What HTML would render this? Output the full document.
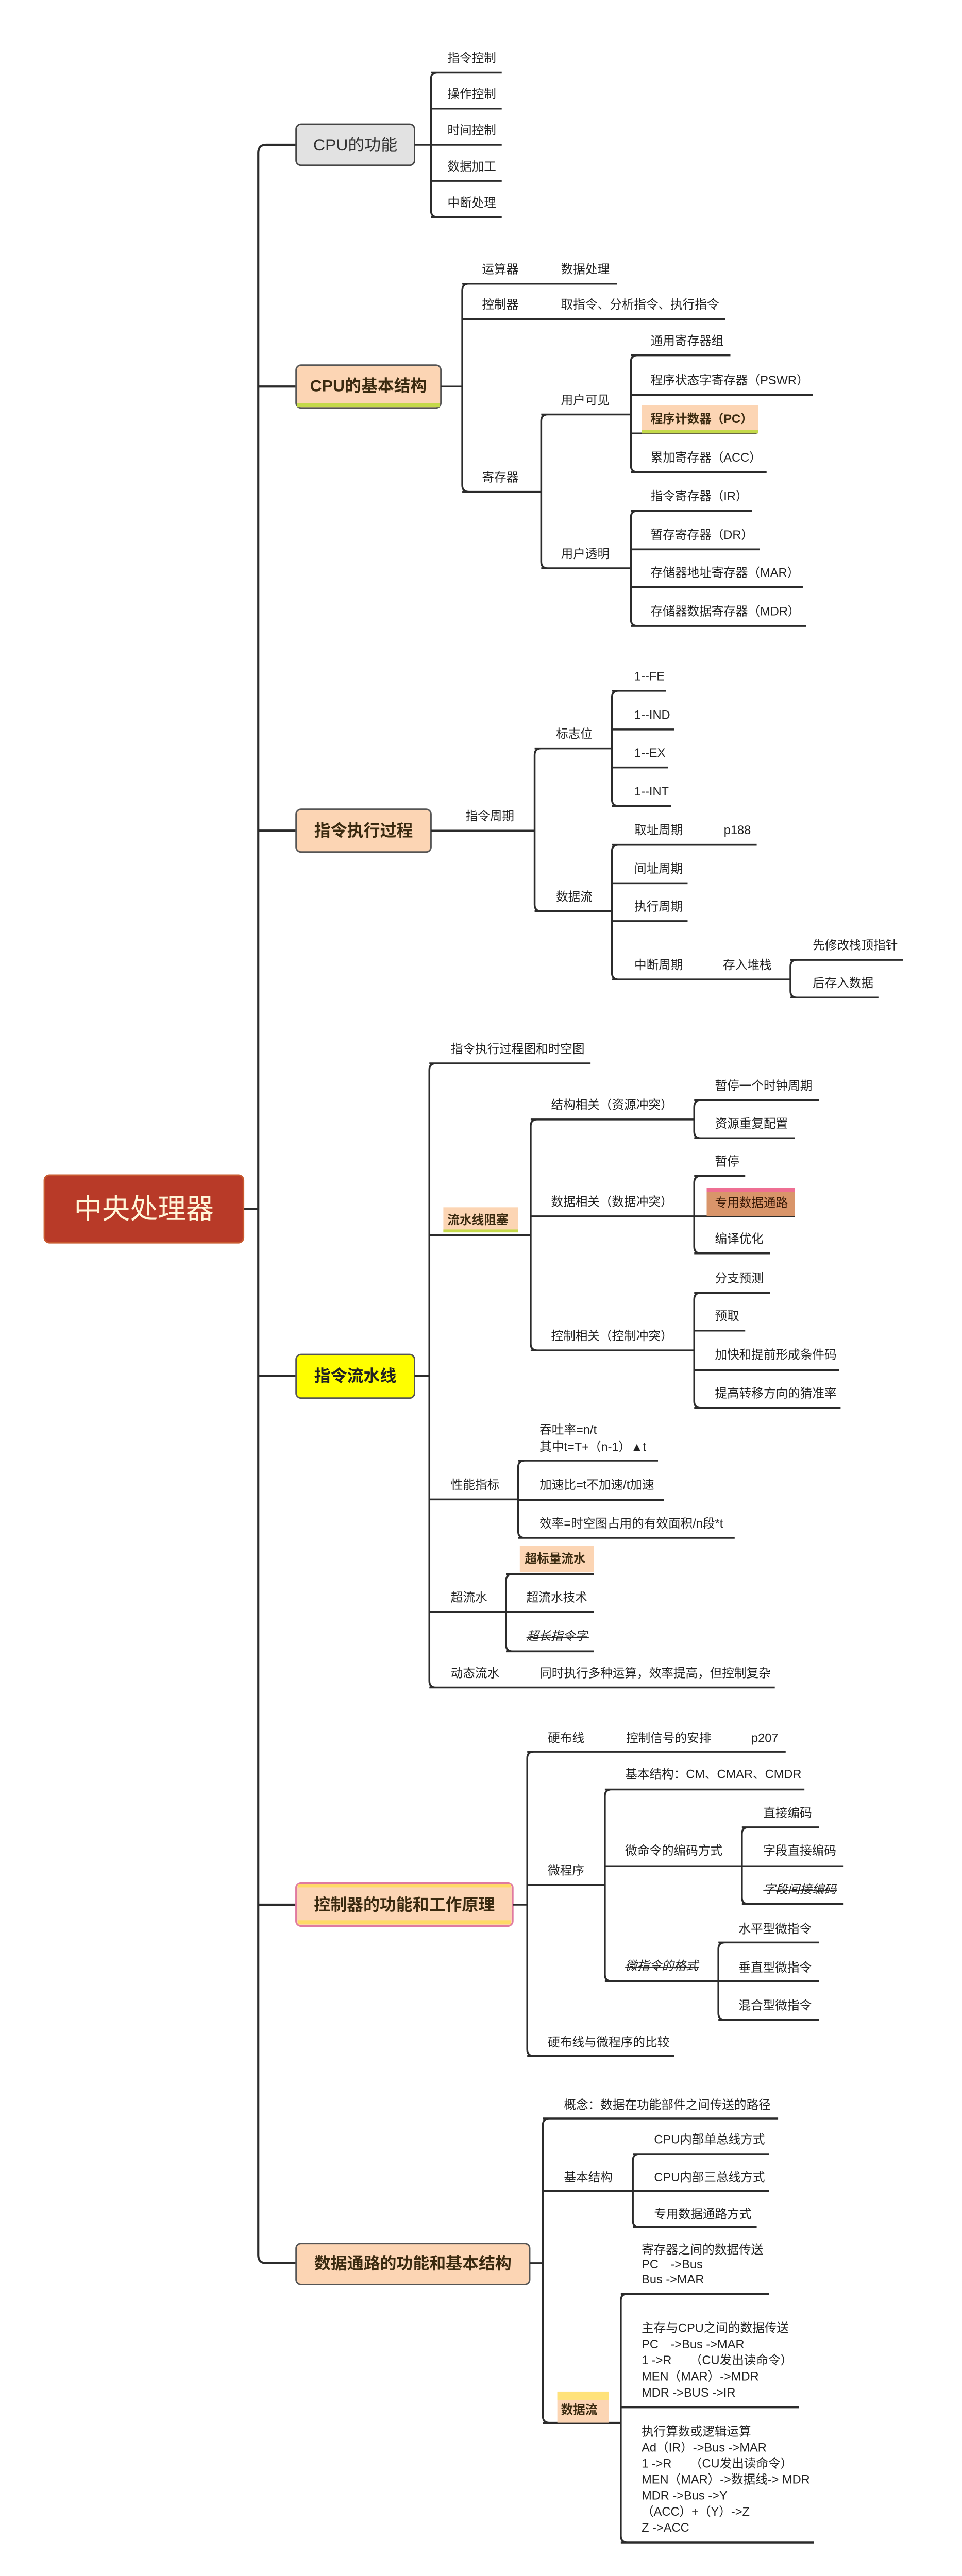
<!DOCTYPE html>
<html><head><meta charset="utf-8">
<style>
html,body{margin:0;padding:0;background:#fff;overflow:hidden;width:1867px;height:5109px;}
svg{display:block;width:1867px;height:5109px;}
text{font-family:"Liberation Sans","Noto Sans CJK SC",sans-serif;font-size:7.4px;fill:#222;dominant-baseline:central;}
.b{font-weight:bold;font-size:10px;fill:#3a2a10;}
.l{stroke:#2b2b2b;stroke-width:1.1;fill:none;}
.s{stroke:#2b2b2b;stroke-width:0.7;}
</style></head><body>
<svg viewBox="0 0 584.8 1600.2" preserveAspectRatio="xMinYMin meet" xmlns="http://www.w3.org/2000/svg">
<rect x="0" y="0" width="584.8" height="1600.2" fill="#fff"/>

<!-- spine -->
<path class="l" d="M180,88 L162,88 Q157,88 157,93 L157,1371 Q157,1376 162,1376 L180,1376 M157,235 L180,235 M157,505 L180,505 M157,836.5 L180,836.5 M157,1158 L180,1158 M148,735 L157,735" style="stroke-width:1.3"/>

<!-- main node -->
<rect x="27" y="714.5" width="121" height="41" rx="3" fill="#b83a28" stroke="#c85a30" stroke-width="1"/>
<text x="87.5" y="735" text-anchor="middle" style="font-size:17px;fill:#fff6d8">中央处理器</text>

<!-- ===== Section 1 ===== -->
<rect x="180" y="75.5" width="72" height="25" rx="3" fill="#e2e2e2" stroke="#444" stroke-width="0.9"/>
<text x="216" y="88" text-anchor="middle" style="font-size:10px;fill:#333">CPU的功能</text>
<path class="l" d="M252,88 L262,88 M266,44 Q262,44 262,48 L262,128 Q262,132 266,132 M262,44 L305,44 M262,66 L305,66 M262,88 L305,88 M262,110 L305,110 M262,132 L305,132"/>
<text x="272" y="35.5">指令控制</text>
<text x="272" y="57.5">操作控制</text>
<text x="272" y="79.5">时间控制</text>
<text x="272" y="101.5">数据加工</text>
<text x="272" y="123.5">中断处理</text>

<!-- ===== Section 2 ===== -->
<rect x="180" y="222" width="88" height="26" rx="3" fill="#fcd5b4" stroke="#555" stroke-width="0.9"/>
<rect x="180.5" y="245" width="87" height="2.5" fill="#c4d94a"/>
<text x="224" y="234.5" text-anchor="middle" class="b">CPU的基本结构</text>
<path class="l" d="M268,235 L281,235 M285,172.5 Q281,172.5 281,176.5 L281,295 Q281,299 285,299 M281,172.5 L375,172.5 M281,194 L441,194 M281,299 L329,299
M333,252 Q329,252 329,256 L329,341.5 Q329,345.5 333,345.5 M329,252 L383,252 M329,345.5 L383,345.5
M387.5,216 Q383.5,216 383.5,220 L383.5,283 Q383.5,287 387.5,287 M383.5,216 L444,216 M383.5,240 L494,240 M383.5,263.5 L460,263.5 M383.5,287 L466,287
M387.5,310.6 Q383.5,310.6 383.5,314.6 L383.5,376.6 Q383.5,380.6 387.5,380.6 M383.5,310.6 L457,310.6 M383.5,334 L462,334 M383.5,357 L488,357 M383.5,380.6 L490,380.6"/>
<text x="293" y="164">运算器</text><text x="341" y="164">数据处理</text>
<text x="293" y="185.5">控制器</text><text x="341" y="185.5">取指令、分析指令、执行指令</text>
<text x="293" y="290.5">寄存器</text>
<text x="341" y="243.5">用户可见</text>
<text x="341" y="337">用户透明</text>
<text x="395.5" y="207.5">通用寄存器组</text>
<text x="395.5" y="231.5">程序状态字寄存器（PSWR）</text>
<rect x="390" y="246.5" width="71" height="17" fill="#fcd5b4"/>
<rect x="390" y="261.5" width="71" height="2" fill="#c4d94a"/>
<text x="395.5" y="255" style="font-weight:bold;fill:#3a2a10">程序计数器（PC）</text>
<text x="395.5" y="278.5">累加寄存器（ACC）</text>
<text x="395.5" y="302">指令寄存器（IR）</text>
<text x="395.5" y="325.5">暂存寄存器（DR）</text>
<text x="395.5" y="348.5">存储器地址寄存器（MAR）</text>
<text x="395.5" y="372">存储器数据寄存器（MDR）</text>

<!-- ===== Section 3 ===== -->
<rect x="180" y="492" width="82" height="26" rx="3" fill="#fcd5b4" stroke="#555" stroke-width="0.9"/>
<text x="221" y="505" text-anchor="middle" class="b">指令执行过程</text>
<path class="l" d="M262,505 L325,505 M329,455 Q325,455 325,459 L325,550 Q325,554 329,554 M325,455 L372,455 M325,554 L372,554
M376,420 Q372,420 372,424 L372,486 Q372,490 376,490 M372,420 L405,420 M372,443.5 L410,443.5 M372,466.6 L406,466.6 M372,490 L408,490
M376,513.6 Q372,513.6 372,517.6 L372,591.5 Q372,595.5 376,595.5 M372,513.6 L460,513.6 M372,537 L418,537 M372,560 L418,560 M372,595.5 L480.5,595.5
M484.5,583.6 Q480.5,583.6 480.5,587.6 L480.5,602.5 Q480.5,606.5 484.5,606.5 M480.5,583.6 L549,583.6 M480.5,606.5 L534,606.5"/>
<text x="283" y="496.5">指令周期</text>
<text x="338" y="446.5">标志位</text>
<text x="338" y="545.5">数据流</text>
<text x="385.6" y="411.5">1--FE</text>
<text x="385.6" y="435">1--IND</text>
<text x="385.6" y="458">1--EX</text>
<text x="385.6" y="481.5">1--INT</text>
<text x="385.6" y="505">取址周期</text><text x="440" y="505">p188</text>
<text x="385.6" y="528.5">间址周期</text>
<text x="385.6" y="551.5">执行周期</text>
<text x="385.6" y="587">中断周期</text><text x="439.5" y="587">存入堆栈</text>
<text x="494" y="575">先修改栈顶指针</text>
<text x="494" y="598">后存入数据</text>

<!-- ===== Section 4 ===== -->
<rect x="180" y="823.5" width="72" height="26.5" rx="3" fill="#ffff00" stroke="#555" stroke-width="0.9"/>
<text x="216" y="836.5" text-anchor="middle" class="b" style="fill:#222">指令流水线</text>
<path class="l" d="M252,836.5 L261,836.5 M265,646.5 Q261,646.5 261,650.5 L261,1022 Q261,1026 265,1026
M261,646.5 L359,646.5 M261,751 L322.6,751 M261,911.6 L315,911.6 M261,980 L307.6,980 M261,1026 L471,1026
M326.6,680.6 Q322.6,680.6 322.6,684.6 L322.6,817 Q322.6,821 326.6,821 M322.6,680.6 L422,680.6 M322.6,739.5 L422,739.5 M322.6,821 L422,821
M426,669 Q422,669 422,673 L422,688 Q422,692 426,692 M422,669 L498,669 M422,692 L483,692
M426,715 Q422,715 422,719 L422,758 Q422,762 426,762 M422,715 L453,715 M422,739.5 L483,739.5 M422,762 L468,762
M426,786 Q422,786 422,790 L422,852 Q422,856 426,856 M422,786 L468,786 M422,809 L453,809 M422,833 L510,833 M422,856 L511,856
M319,888 Q315,888 315,892 L315,931 Q315,935 319,935 M315,888 L400,888 M315,912 L403.5,912 M315,935 L446.6,935
M311.6,957 Q307.6,957 307.6,961 L307.6,1000 Q307.6,1004 311.6,1004 M307.6,957 L361,957 M307.6,980 L361,980 M307.6,1004 L361,1004"/>
<text x="274" y="638">指令执行过程图和时空图</text>
<rect x="269.5" y="734" width="45.5" height="15" fill="#fcd5b4"/>
<rect x="269.5" y="747.5" width="45.5" height="1.8" fill="#c4d94a"/>
<text x="272" y="742" style="font-weight:bold;fill:#3a2a10">流水线阻塞</text>
<text x="335" y="672">结构相关（资源冲突）</text>
<text x="335" y="731">数据相关（数据冲突）</text>
<text x="335" y="812.5">控制相关（控制冲突）</text>
<text x="434.6" y="660.5">暂停一个时钟周期</text>
<text x="434.6" y="683.5">资源重复配置</text>
<text x="434.6" y="706.5">暂停</text>
<rect x="429.6" y="722" width="53.4" height="17.5" fill="#d9956a"/>
<rect x="429.6" y="722" width="53.4" height="2.5" fill="#ee6f93"/>
<text x="434.6" y="731.5" style="fill:#3a1a08">专用数据通路</text>
<text x="434.6" y="753.5">编译优化</text>
<text x="434.6" y="777.5">分支预测</text>
<text x="434.6" y="800.5">预取</text>
<text x="434.6" y="824">加快和提前形成条件码</text>
<text x="434.6" y="847.5">提高转移方向的猜准率</text>
<text x="274" y="903">性能指标</text>
<text x="328" y="869.5">吞吐率=n/t</text>
<text x="328" y="880">其中t=T+（n-1）▲t</text>
<text x="328" y="903">加速比=t不加速/t加速</text>
<text x="328" y="926.5">效率=时空图占用的有效面积/n段*t</text>
<text x="274" y="971.5">超流水</text>
<rect x="316" y="940" width="45" height="16" fill="#fcd5b4"/>
<text x="319" y="948" style="font-weight:bold;fill:#3a2a10">超标量流水</text>
<text x="320" y="971.5">超流水技术</text>
<text x="320" y="995" style="font-style:italic">超长指令字</text>
<line class="s" x1="320" y1="995.5" x2="358" y2="995.5"/>
<text x="274" y="1017.5">动态流水</text>
<text x="328" y="1017.5">同时执行多种运算，效率提高，但控制复杂</text>

<!-- ===== Section 5 ===== -->
<rect x="180" y="1144.7" width="131.7" height="26.3" rx="3" fill="#fcd5b4" stroke="#e07aa0" stroke-width="1"/>
<rect x="181" y="1145.5" width="129.7" height="2" fill="#ffd966"/>
<rect x="181" y="1167.5" width="129.7" height="2.5" fill="#ffd966"/>
<text x="245.8" y="1158" text-anchor="middle" class="b">控制器的功能和工作原理</text>
<path class="l" d="M311.7,1158 L320.5,1158 M324.5,1065 Q320.5,1065 320.5,1069 L320.5,1246 Q320.5,1250 324.5,1250
M320.5,1065 L477.6,1065 M320.5,1146 L367.7,1146 M320.5,1250 L410,1250
M371.7,1088 Q367.7,1088 367.7,1092 L367.7,1200.5 Q367.7,1204.5 371.7,1204.5 M367.7,1088 L489,1088 M367.7,1134.6 L451,1134.6 M367.7,1204.5 L436.7,1204.5
M455,1111 Q451,1111 451,1115 L451,1153.6 Q451,1157.6 455,1157.6 M451,1111 L498,1111 M451,1134.6 L512.8,1134.6 M451,1157.6 L512.8,1157.6
M440.7,1181 Q436.7,1181 436.7,1185 L436.7,1224 Q436.7,1228 440.7,1228 M436.7,1181 L498,1181 M436.7,1204.5 L498,1204.5 M436.7,1228 L498,1228"/>
<text x="333" y="1057">硬布线</text><text x="380.6" y="1057">控制信号的安排</text><text x="456.7" y="1057">p207</text>
<text x="333" y="1137.5">微程序</text>
<text x="380" y="1079">基本结构：CM、CMAR、CMDR</text>
<text x="380" y="1125.5">微命令的编码方式</text>
<text x="464" y="1102.5">直接编码</text>
<text x="464" y="1125.5">字段直接编码</text>
<text x="464" y="1149" style="font-style:italic">字段间接编码</text>
<line class="s" x1="464" y1="1149.5" x2="509" y2="1149.5"/>
<text x="380" y="1195.5" style="font-style:italic">微指令的格式</text>
<line class="s" x1="380" y1="1196" x2="425" y2="1196"/>
<text x="449" y="1173">水平型微指令</text>
<text x="449" y="1196.5">垂直型微指令</text>
<text x="449" y="1219.5">混合型微指令</text>
<text x="333" y="1242">硬布线与微程序的比较</text>

<!-- ===== Section 6 ===== -->
<rect x="180" y="1364" width="142" height="25" rx="3" fill="#fcd5b4" stroke="#555" stroke-width="0.9"/>
<text x="251" y="1376" text-anchor="middle" class="b">数据通路的功能和基本结构</text>
<path class="l" d="M322,1376 L330,1376 M334,1288 Q330,1288 330,1292 L330,1469 Q330,1473 334,1473
M330,1288 L473,1288 M330,1332 L384.7,1332 M330,1473 L377.4,1473
M388.7,1309.6 Q384.7,1309.6 384.7,1313.6 L384.7,1350 Q384.7,1354 388.7,1354 M384.7,1309.6 L467.5,1309.6 M384.7,1332 L467.5,1332 M384.7,1354 L460,1354
M381.4,1394.6 Q377.4,1394.6 377.4,1398.6 L377.4,1541.8 Q377.4,1545.8 381.4,1545.8 M377.4,1394.6 L467.5,1394.6 M377.4,1463.6 L485.6,1463.6 M377.4,1545.8 L494.6,1545.8"/>
<text x="342.8" y="1280">概念：数据在功能部件之间传送的路径</text>
<text x="342.8" y="1324">基本结构</text>
<text x="397.6" y="1301">CPU内部单总线方式</text>
<text x="397.6" y="1324">CPU内部三总线方式</text>
<text x="397.6" y="1346.5">专用数据通路方式</text>
<rect x="338.8" y="1454" width="31.2" height="19" fill="#fcd5b4"/>
<rect x="338.8" y="1454" width="31.2" height="5" fill="#ffe27a"/>
<text x="341" y="1465.4" style="font-weight:bold;fill:#3a2a10">数据流</text>
<text x="390" y="1368">寄存器之间的数据传送</text>
<text x="390" y="1377">PC　-&gt;Bus</text>
<text x="390" y="1386">Bus -&gt;MAR</text>
<text x="390" y="1415.7">主存与CPU之间的数据传送</text>
<text x="390" y="1425.5">PC　-&gt;Bus -&gt;MAR</text>
<text x="390" y="1435.3">1 -&gt;R　　（CU发出读命令）</text>
<text x="390" y="1445.1">MEN（MAR）-&gt;MDR</text>
<text x="390" y="1455">MDR -&gt;BUS -&gt;IR</text>
<text x="390" y="1478.6">执行算数或逻辑运算</text>
<text x="390" y="1488.3">Ad（IR）-&gt;Bus -&gt;MAR</text>
<text x="390" y="1498">1 -&gt;R　　（CU发出读命令）</text>
<text x="390" y="1507.7">MEN（MAR）-&gt;数据线-&gt; MDR</text>
<text x="390" y="1517.5">MDR -&gt;Bus -&gt;Y</text>
<text x="390" y="1527.3">（ACC）+（Y）-&gt;Z</text>
<text x="390" y="1537">Z -&gt;ACC</text>
</svg>
</body></html>
